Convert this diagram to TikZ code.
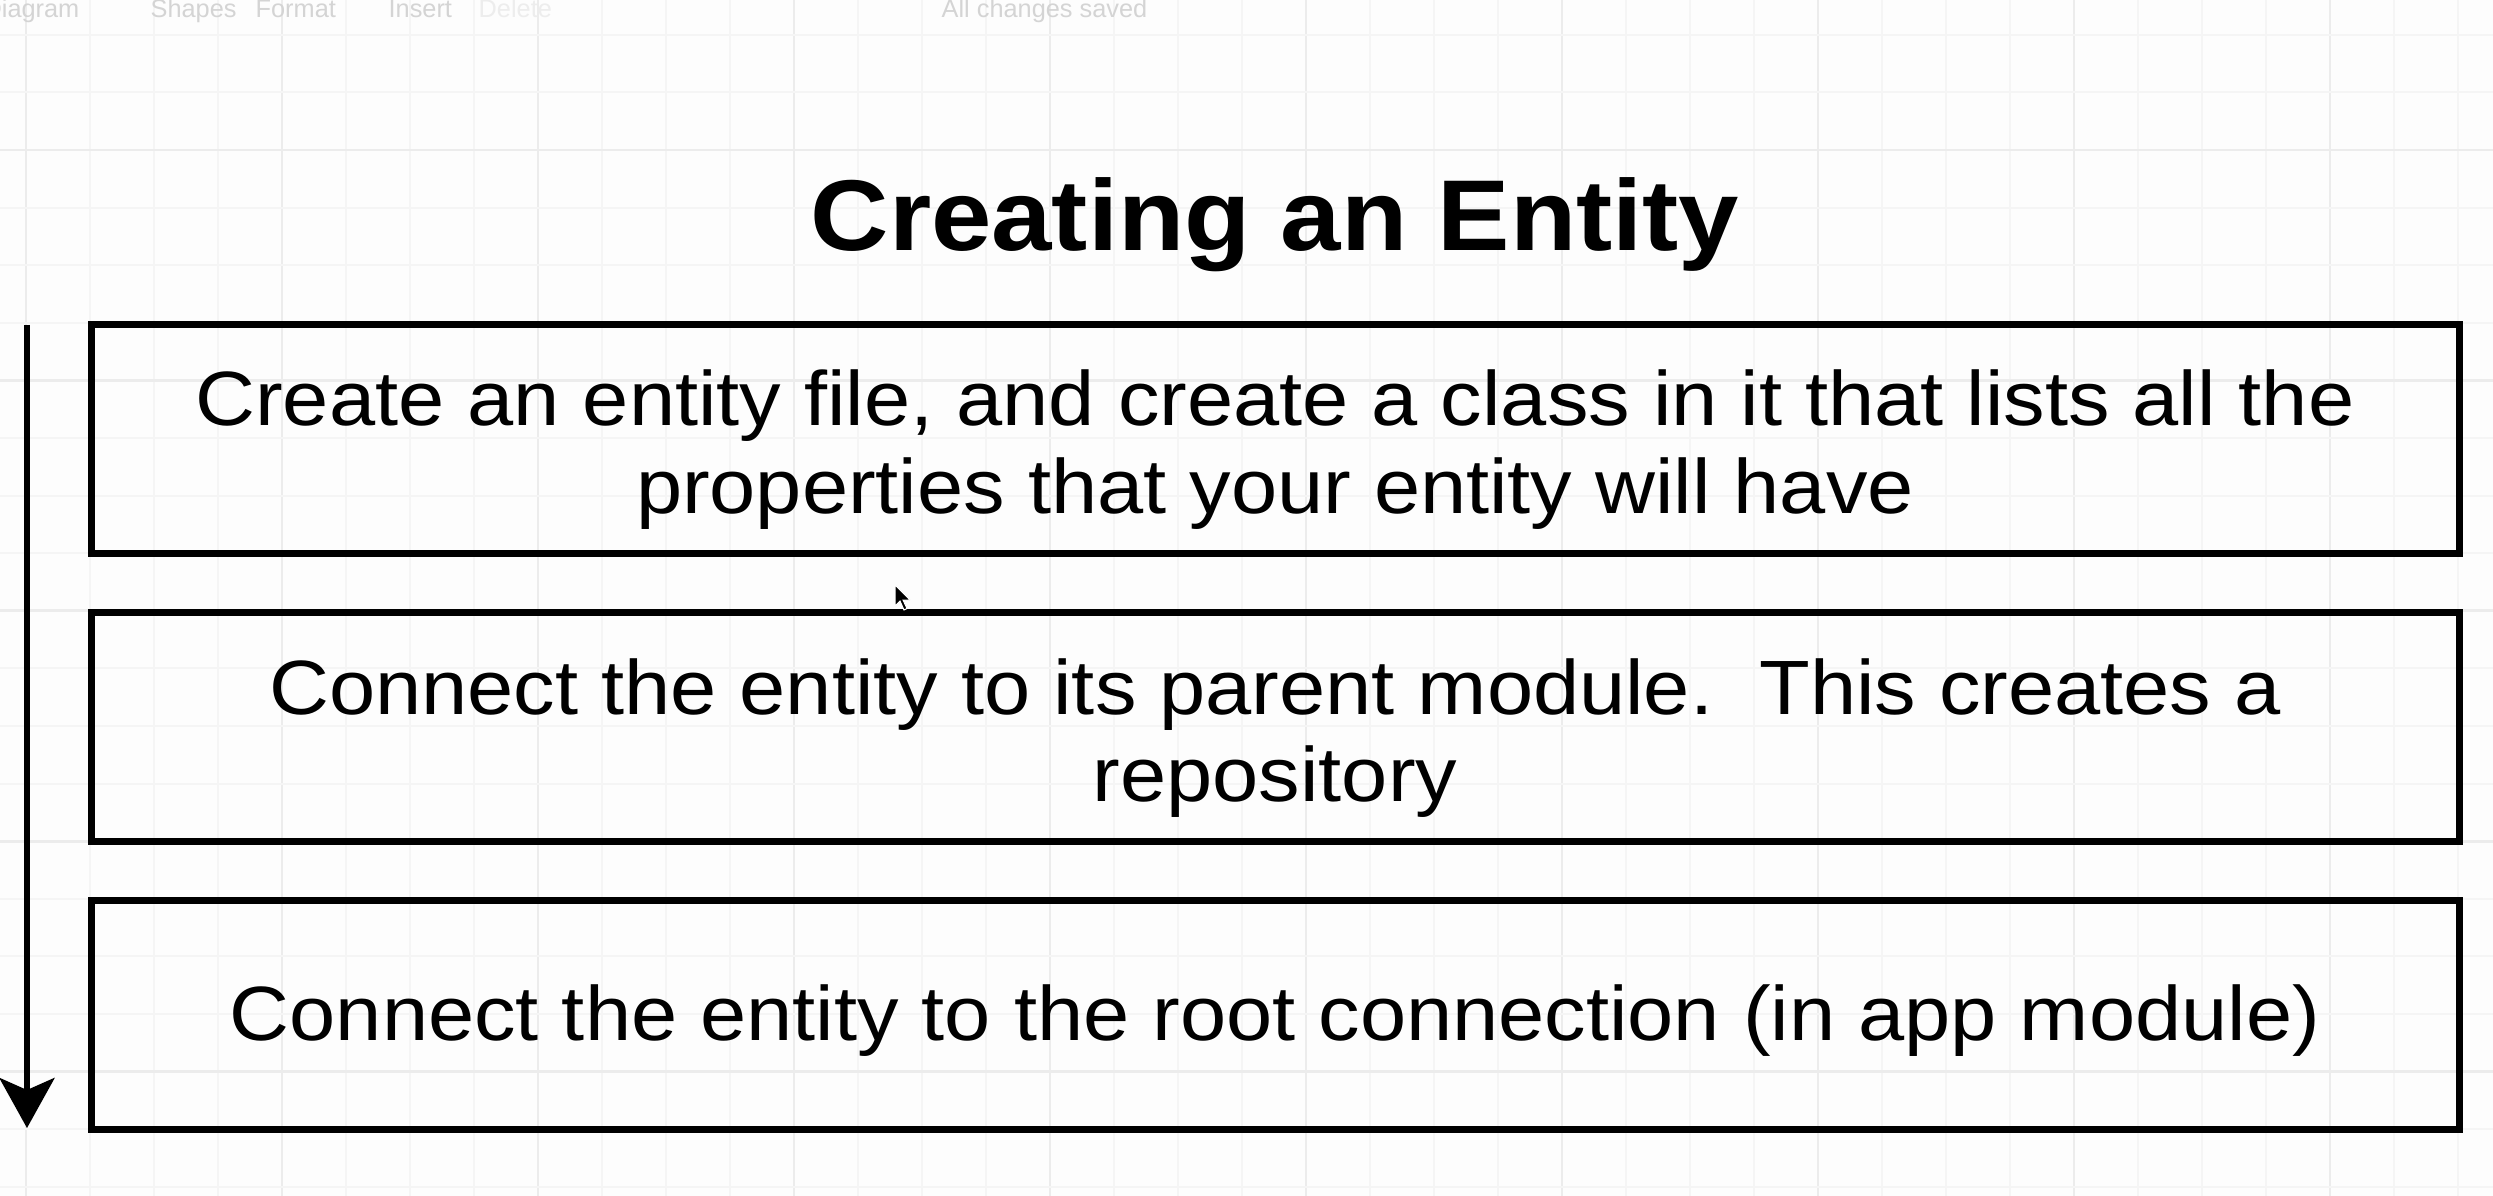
\documentclass[tikz,border=0pt]{standalone}
\usepackage{fontspec}
\setmainfont{Liberation Sans}
\newfontfamily\bodyfont{Liberation Sans}[FakeStretch=1.078]
\newfontfamily\uifont{Liberation Sans}
\usetikzlibrary{arrows.meta,calc}

\definecolor{paper}{HTML}{FDFDFD}
\definecolor{gridminor}{HTML}{F5F5F5}
\definecolor{gridmajor}{HTML}{ECECEC}
\definecolor{uitext}{HTML}{D4D4D4}
\definecolor{uidim}{HTML}{EDEDED}

\tikzset{
  stepbox/.style={draw=black, line width=2.1pt, fill=none, inner sep=0pt,
    minimum width=710.4pt, minimum height=68.7pt},
  bodyline/.style={inner sep=0pt, anchor=base,
    font=\bodyfont\fontsize{23.1pt}{26pt}\selectfont},
  titletext/.style={inner sep=0pt, anchor=base,
    font=\bodyfont\bfseries\fontsize{30.2pt}{34pt}\selectfont},
  uilabel/.style={inner sep=0pt, anchor=base west, text=uitext,
    font=\uifont\fontsize{7.6pt}{9pt}\selectfont},
  flow/.style={line width=1.8pt, draw=black,
    -{Stealth[length=15pt, width=16.5pt, inset=3.6pt]}},
}

\begin{document}
\begin{tikzpicture}[x=0.3pt, y=-0.3pt]
  % canvas
  \fill[paper] (0,0) rectangle (2493,1196);
  \useasboundingbox (0,0) rectangle (2493,1196);

  % editor grid
  \begin{scope}
    \clip (0,0) rectangle (2493,1196);
    \foreach \k in {0,...,38} {
      \pgfmathsetmacro{\gx}{26+64*\k}
      \pgfmathtruncatemacro{\m}{mod(\k,4)}
      \ifnum\m=0
        \draw[gridmajor, line width=0.8pt] (\gx,0) -- (\gx,1196);
      \else
        \draw[gridminor, line width=0.6pt] (\gx,0) -- (\gx,1196);
      \fi
    }
    \foreach \k in {-2,...,18} {
      \pgfmathsetmacro{\gy}{150+57.6*\k}
      \pgfmathtruncatemacro{\m}{mod(\k+8,4)}
      \ifnum\m=0
        \draw[gridmajor, line width=0.8pt] (0,\gy) -- (2493,\gy);
      \else
        \draw[gridminor, line width=0.6pt] (0,\gy) -- (2493,\gy);
      \fi
    }
  \end{scope}

  % toolbar labels
  \node[uilabel, anchor=base east] (tbdiagram) at (80,18) {Diagram};
  \node[uilabel] (tbshapes) at (150,18) {Shapes};
  \node[uilabel] (tbformat) at (255,18) {Format};
  \node[uilabel] (tbinsert) at (388,18) {Insert};
  \node[uilabel, text=uidim] (tbdelete) at (478,18) {Delete};
  \node[uilabel] (tbsaved) at (941,18) {All changes saved};

  % title
  \node[titletext] (title) at (1275,251) {Creating an Entity};

  % steps
  \node[stepbox] (b1) at (1275,439) {};
  \node[stepbox] (b2) at (1275,727) {};
  \node[stepbox] (b3) at (1275,1015) {};

  \node[bodyline] (b1l1) at ($(b1.north)+(0,105)$)
    {Create an entity file, and create a class in it that lists all the};
  \node[bodyline] (b1l2) at ($(b1.north)+(0,192)$)
    {properties that your entity will have};

  \node[bodyline] (b2l1) at ($(b2.north)+(0,105)$)
    {Connect the entity to its parent module.\ \ This creates a};
  \node[bodyline] (b2l2) at ($(b2.north)+(0,192)$)
    {repository};

  \node[bodyline] (b3l1) at ($(b3.north)+(0,143)$)
    {Connect the entity to the root connection (in app module)};

  % order of the steps
  \coordinate (flowtop) at (27,325);
  \coordinate (flowend) at (27,1128);
  \draw[flow] (flowtop) -- (flowend);

  % mouse pointer
  \fill[black, draw=white, line width=0.3pt]
    (895,585) -- ++(0,21) -- ++(5,-5) -- ++(4,9) -- ++(3,-1.5)
    -- ++(-4,-8.5) -- ++(7,0) -- cycle;
\end{tikzpicture}
\end{document}
